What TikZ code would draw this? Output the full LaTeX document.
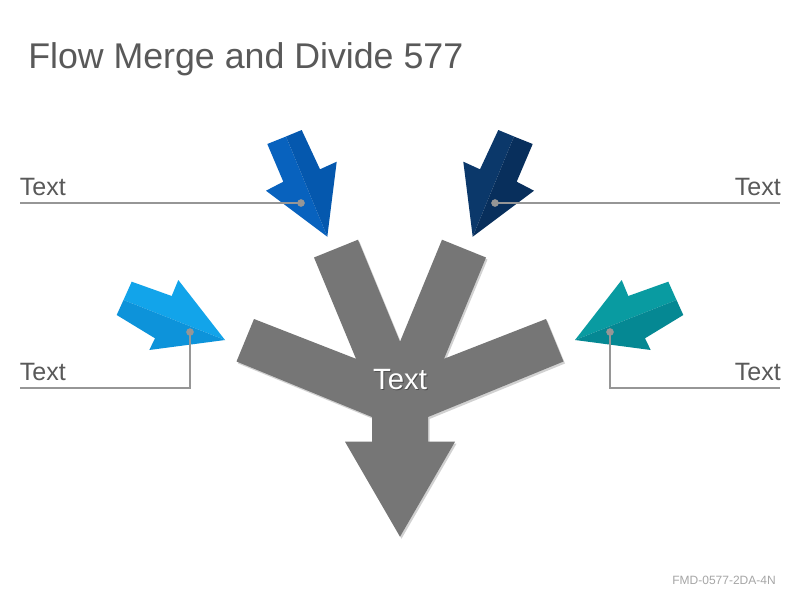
\documentclass[tikz,border=0pt]{standalone}
\usepackage{fontspec}
\setmainfont{Liberation Sans}
\definecolor{titlegray}{RGB}{89,89,89}
\definecolor{shapegray}{RGB}{118,118,118}
\definecolor{linegray}{RGB}{150,150,150}
\definecolor{footgray}{RGB}{166,166,166}
\definecolor{blueA}{RGB}{8,98,190}
\definecolor{blueB}{RGB}{5,88,174}
\definecolor{navyA}{RGB}{11,56,106}
\definecolor{navyB}{RGB}{8,47,92}
\definecolor{skyA}{RGB}{18,164,234}
\definecolor{skyB}{RGB}{13,147,218}
\definecolor{tealA}{RGB}{9,155,161}
\definecolor{tealB}{RGB}{5,136,147}
\tikzset{
  lbl/.style={font=\fontsize{18.8pt}{21pt}\selectfont, text=titlegray, inner sep=0pt},
  conn/.style={draw=linegray, line width=2.1pt},
  dotc/.style={circle, fill=linegray, inner sep=0pt, minimum size=5.5pt},
  shadowfill/.style={fill=black, opacity=0.18},
}
\begin{document}
\begin{tikzpicture}[x=0.75pt,y=-0.75pt]
\useasboundingbox (0,0) rectangle (800,600);
\fill[white] (0,0) rectangle (800,600);

% title
\node[anchor=base west, inner sep=0pt, text=titlegray, font=\fontsize{26.8pt}{30pt}\selectfont] (title) at (28,68) {Flow Merge and Divide 577};

% central gray shape (shadow + body)
\fill[shadowfill] ([shift={(1.5,2)}]254,319) -- ([shift={(1.5,2)}]356,358.8) -- ([shift={(1.5,2)}]314,257.5) -- ([shift={(1.5,2)}]358,239.7) -- ([shift={(1.5,2)}]400,341.7) -- ([shift={(1.5,2)}]442,239.7) -- ([shift={(1.5,2)}]486,257.5) -- ([shift={(1.5,2)}]444,358.8) -- ([shift={(1.5,2)}]546,319) -- ([shift={(1.5,2)}]563.5,361.5) -- ([shift={(1.5,2)}]428,417) -- ([shift={(1.5,2)}]428,441.7) -- ([shift={(1.5,2)}]455,441.7) -- ([shift={(1.5,2)}]400,536.7) -- ([shift={(1.5,2)}]345,441.7) -- ([shift={(1.5,2)}]372,441.7) -- ([shift={(1.5,2)}]372,417) -- ([shift={(1.5,2)}]236.5,361.5) -- cycle;
\fill[shapegray] (254,319) -- (356,358.8) -- (314,257.5) -- (358,239.7) -- (400,341.7) -- (442,239.7) -- (486,257.5) -- (444,358.8) -- (546,319) -- (563.5,361.5) -- (428,417) -- (428,441.7) -- (455,441.7) -- (400,536.7) -- (345,441.7) -- (372,441.7) -- (372,417) -- (236.5,361.5) -- cycle;

% center text
\node[anchor=base, inner sep=0pt, text=black, opacity=0.35, font=\fontsize{22pt}{25pt}\selectfont] at (401,390.5) {Text};
\node[anchor=base, inner sep=0pt, text=white, font=\fontsize{22pt}{25pt}\selectfont] (center) at (400,389.5) {Text};

% top-left arrow
\fill[blueA] (267.3,144) -- (286,136.5) -- (327.3,236.7) -- (266,190.7) -- (283.3,181.7) -- cycle;
\fill[blueB] (286,136.5) -- (301.7,130) -- (320,169.3) -- (336.7,161.7) -- (327.3,236.7) -- cycle;
% top-right arrow
\fill[navyA] (498.3,130) -- (514,136.5) -- (472.7,236.7) -- (463.3,161.7) -- (480,169.3) -- cycle;
\fill[navyB] (514,136.5) -- (532.7,144) -- (516.7,181.7) -- (534,190.7) -- (472.7,236.7) -- cycle;
% left arrow
\fill[skyA] (131.7,281.7) -- (171.7,296) -- (178.3,280) -- (225,340) -- (123.5,300) -- cycle;
\fill[skyB] (123.5,300) -- (225,340) -- (149.3,350) -- (155,338.3) -- (116.7,315) -- cycle;
% right arrow
\fill[tealA] (668.3,281.7) -- (628.3,296) -- (621.7,280) -- (575,340) -- (676.5,300) -- cycle;
\fill[tealB] (676.5,300) -- (575,340) -- (650.7,350) -- (645,338.3) -- (683.3,315) -- cycle;

% connector dots and ends
\node[dotc] (d1) at (301,203) {};
\node[dotc] (d2) at (495,203) {};
\node[dotc] (d3) at (190,332) {};
\node[dotc] (d4) at (610,332) {};
\coordinate (e1) at (20,203);
\coordinate (e2) at (780,203);
\coordinate (b3) at (190,388);
\coordinate (e3) at (20,388);
\coordinate (b4) at (610,388);
\coordinate (e4) at (780,388);

\draw[conn] (d1.center) -- (e1);
\draw[conn] (d2.center) -- (e2);
\draw[conn] (d3.center) -- (b3) -- (e3);
\draw[conn] (d4.center) -- (b4) -- (e4);
\node[dotc] at (d1) {};
\node[dotc] at (d2) {};
\node[dotc] at (d3) {};
\node[dotc] at (d4) {};

% labels
\node[lbl, anchor=base west] (t1) at (19.5,195) {Text};
\node[lbl, anchor=base east] (t2) at (781,195) {Text};
\node[lbl, anchor=base west] (t3) at (19.5,380) {Text};
\node[lbl, anchor=base east] (t4) at (781,380) {Text};

% footer
\node[anchor=base east, inner sep=0pt, text=footgray, font=\fontsize{9pt}{10pt}\selectfont] (foot) at (776,584) {FMD-0577-2DA-4N};
\end{tikzpicture}
\end{document}
